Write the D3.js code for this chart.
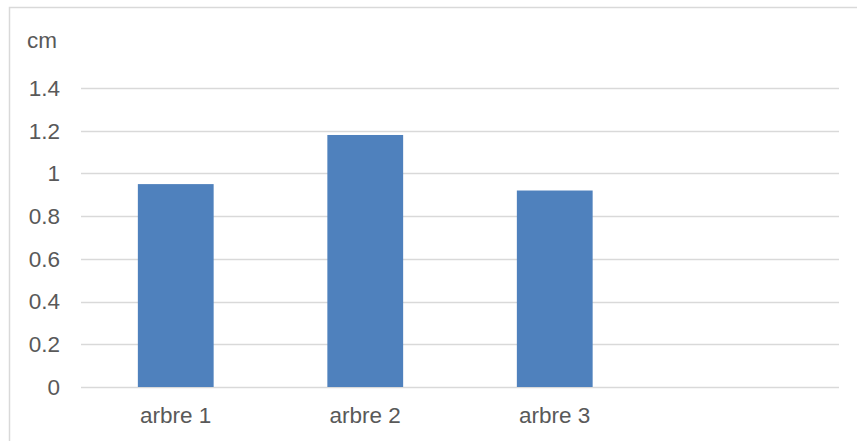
<!DOCTYPE html>
<html>
<head>
    <script src="https://d3js.org/d3.v7.min.js"></script>
    <style>
        body { margin: 0; background: #fff; }
        svg { display: block; font-family: "Liberation Sans", Arial, sans-serif; }
    </style>
</head>
<body>
    <svg width="857" height="441"></svg>
    <script>
        // Data
        const categories = ["arbre 1", "arbre 2", "arbre 3", ""];
        const values = [0.95, 1.18, 0.92, null];
        const yTicks = [0, 0.2, 0.4, 0.6, 0.8, 1, 1.2, 1.4];
        const unitLabel = "cm";

        const svg = d3.select("svg");
        const margin = { top: 88, right: 18, bottom: 54, left: 81 };
        const width = +svg.attr("width") - margin.left - margin.right;
        const height = +svg.attr("height") - margin.top - margin.bottom;
        const fontSize = "22.5px";

        // Outer frame (cropped on right and bottom)
        svg.append("path")
            .attr("d", "M9.5,441 V7.5 H857")
            .attr("fill", "none")
            .attr("stroke", "#d9d9d9")
            .attr("stroke-width", 1.5);

        const g = svg.append("g")
            .attr("transform", `translate(${margin.left},${margin.top})`);

        const x = d3.scaleBand()
            .domain(d3.range(categories.length))
            .range([0, width])
            .paddingInner(0.6)
            .paddingOuter(0.3);

        const y = d3.scaleLinear()
            .domain([0, 1.4])
            .range([height, 0]);

        // Gridlines
        g.append("g")
            .selectAll("line")
            .data(yTicks)
            .join("line")
            .attr("x1", 0)
            .attr("x2", width)
            .attr("y1", d => Math.round(y(d)) + 0.5)
            .attr("y2", d => Math.round(y(d)) + 0.5)
            .attr("stroke", "#d9d9d9")
            .attr("stroke-width", 1.5);

        // Y tick labels
        g.append("g")
            .selectAll("text")
            .data(yTicks)
            .join("text")
            .attr("x", -21)
            .attr("y", d => y(d))
            .attr("dy", "0.35em")
            .attr("text-anchor", "end")
            .attr("fill", "#595959")
            .style("font-size", fontSize)
            .text(d => d3.format("~g")(d));

        // Bars
        g.append("g")
            .selectAll("rect")
            .data(values.map((v, i) => ({ v, i })).filter(d => d.v != null))
            .join("rect")
            .attr("x", d => x(d.i))
            .attr("width", x.bandwidth())
            .attr("y", d => y(d.v))
            .attr("height", d => y(0) - y(d.v))
            .attr("fill", "#4f81bd");

        // Category labels
        g.append("g")
            .selectAll("text")
            .data(categories)
            .join("text")
            .attr("x", (d, i) => x(i) + x.bandwidth() / 2)
            .attr("y", height + 36)
            .attr("text-anchor", "middle")
            .attr("fill", "#595959")
            .style("font-size", fontSize)
            .text(d => d);

        // Unit label
        svg.append("text")
            .attr("x", 27)
            .attr("y", 48)
            .attr("fill", "#595959")
            .style("font-size", fontSize)
            .text(unitLabel);
    </script>
</body>
</html>
